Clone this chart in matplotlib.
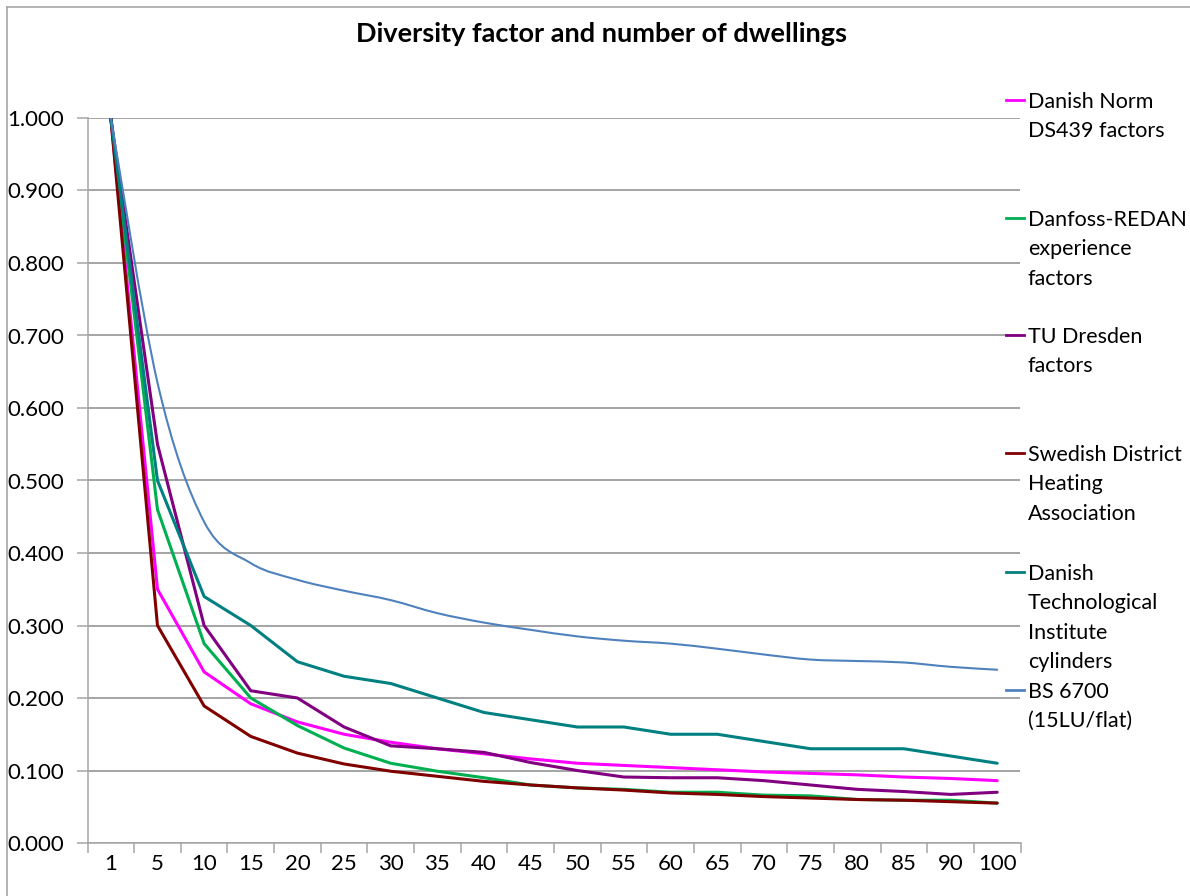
import numpy as np
import matplotlib
matplotlib.use("Agg")
import matplotlib.pyplot as plt
from matplotlib.path import Path
from matplotlib.patches import PathPatch
from matplotlib.lines import Line2D
from matplotlib.ticker import FixedLocator, NullFormatter, FuncFormatter

plt.rcParams['font.family'] = ['Lato', 'DejaVu Sans']

categories = [1, 5, 10, 15, 20, 25, 30, 35, 40, 45, 50, 55, 60, 65, 70, 75, 80, 85, 90, 100]
danish_norm = [1.0, 0.35, 0.236, 0.192, 0.167, 0.150, 0.139, 0.130, 0.123, 0.116, 0.110,
               0.107, 0.104, 0.101, 0.098, 0.096, 0.094, 0.091, 0.089, 0.086]
danfoss = [1.0, 0.46, 0.275, 0.200, 0.162, 0.131, 0.110, 0.099, 0.090, 0.080, 0.076,
           0.074, 0.070, 0.070, 0.066, 0.065, 0.060, 0.059, 0.059, 0.055]
tu_dresden = [1.0, 0.55, 0.300, 0.210, 0.200, 0.160, 0.134, 0.130, 0.125, 0.111, 0.100,
              0.091, 0.090, 0.090, 0.086, 0.080, 0.074, 0.071, 0.067, 0.070]
swedish = [1.0, 0.30, 0.189, 0.147, 0.124, 0.109, 0.099, 0.092, 0.085, 0.080, 0.076,
           0.073, 0.069, 0.067, 0.064, 0.062, 0.060, 0.059, 0.057, 0.055]
dti = [1.0, 0.50, 0.34, 0.30, 0.25, 0.23, 0.22, 0.20, 0.18, 0.17, 0.16,
       0.16, 0.15, 0.15, 0.14, 0.13, 0.13, 0.13, 0.12, 0.11]
bs6700 = [1.0, 0.635, 0.443, 0.386, 0.363, 0.348, 0.335, 0.317, 0.304, 0.294, 0.285,
          0.279, 0.275, 0.268, 0.260, 0.253, 0.251, 0.249, 0.243, 0.239]

series_names = ["Danish Norm\nDS439 factors",
                "Danfoss-REDAN\nexperience\nfactors",
                "TU Dresden\nfactors",
                "Swedish District\nHeating\nAssociation",
                "Danish\nTechnological\nInstitute\ncylinders",
                "BS 6700\n(15LU/flat)"]
series_colors = ["#FF00FF", "#00B050", "#800080", "#800000", "#008080", "#4F81BD"]
series_values = [danish_norm, danfoss, tu_dresden, swedish, dti, bs6700]
series_smooth = [False, False, False, False, False, True]
series_lw = [2.2, 2.2, 2.2, 2.2, 2.2, 1.5]

W, H = 1190, 896
fig = plt.figure(figsize=(W / 100, H / 100), dpi=100)
fig.patch.set_facecolor("white")

left, right, top, bottom = 87.5, 1020.5, 118, 843
ax = fig.add_axes([left / W, (H - bottom) / H, (right - left) / W, (bottom - top) / H])
ax.set_facecolor("none")

x = np.arange(len(categories))


def smooth_path(xs, ys):
    pts = np.column_stack([xs, ys]).astype(float)
    n = len(pts)
    verts = [pts[0]]
    codes = [Path.MOVETO]
    for i in range(n - 1):
        p0 = pts[i - 1] if i > 0 else pts[i]
        p1 = pts[i]
        p2 = pts[i + 1]
        p3 = pts[i + 2] if i + 2 < n else pts[i + 1]
        c1 = p1 + (p2 - p0) / 6.0
        c2 = p2 - (p3 - p1) / 6.0
        verts += [c1, c2, p2]
        codes += [Path.CURVE4] * 3
    return Path(verts, codes)


for vals, col, sm, lw in zip(series_values, series_colors, series_smooth, series_lw):
    if sm:
        patch = PathPatch(smooth_path(x, vals), facecolor="none", edgecolor=col,
                          linewidth=lw, zorder=3, capstyle="round", joinstyle="round")
        ax.add_patch(patch)
    else:
        ax.plot(x, vals, color=col, linewidth=lw, zorder=3,
                solid_joinstyle="round", solid_capstyle="round")

ax.set_xlim(-0.5, len(categories) - 0.5)
ax.set_ylim(0, 1.0)

ax.yaxis.set_major_locator(FixedLocator(np.arange(0, 1.01, 0.1)))
ax.yaxis.set_major_formatter(FuncFormatter(lambda v, p: f"{v:.3f}"))
ax.grid(axis="y", color="#8C8C8C", linewidth=1.1, zorder=1)
ax.set_axisbelow(True)

ax.xaxis.set_major_locator(FixedLocator(np.arange(-0.5, len(categories), 1.0)))
ax.xaxis.set_major_formatter(NullFormatter())
ax.xaxis.set_minor_locator(FixedLocator(x))
ax.set_xticklabels([str(c) for c in categories], minor=True)
ax.tick_params(axis="x", which="major", direction="out", length=7, width=1.1,
               color="#A6A6A6")
ax.tick_params(axis="x", which="minor", length=0, pad=8, labelsize=16)
ax.tick_params(axis="y", direction="out", length=8, width=1.1, color="#A6A6A6",
               labelsize=16, pad=9)
for lab in ax.get_yticklabels():
    lab.set_horizontalalignment("right")

for s in ["top", "right"]:
    ax.spines[s].set_visible(False)
for s in ["left", "bottom"]:
    ax.spines[s].set_color("#A6A6A6")
    ax.spines[s].set_linewidth(1.1)

# chart border (top and left visible)
fig.add_artist(Line2D([7 / W, 1.0], [1 - 7 / H, 1 - 7 / H], transform=fig.transFigure,
                      color="#A6A6A6", linewidth=1.2))
fig.add_artist(Line2D([7 / W, 7 / W], [0, 1 - 7 / H], transform=fig.transFigure,
                      color="#A6A6A6", linewidth=1.2))

fig.text(602 / W, 1 - 34 / H, "Diversity factor and number of dwellings",
         ha="center", va="center", fontsize=19.5, fontweight="bold")

# legend
entry_top = [100, 218, 335, 453, 572, 690]
line_step = 29.6
for name, col, y0 in zip(series_names, series_colors, entry_top):
    fig.add_artist(Line2D([1006 / W, 1024 / W], [1 - y0 / H, 1 - y0 / H],
                          transform=fig.transFigure, color=col, linewidth=2.0))
    for k, ln in enumerate(name.split("\n")):
        yc = y0 + k * line_step
        fig.text(1028 / W, 1 - (yc + 7.5) / H, ln, ha="left", va="baseline",
                 fontsize=15.5)

fig.savefig("out.png", dpi=100, facecolor="white")
